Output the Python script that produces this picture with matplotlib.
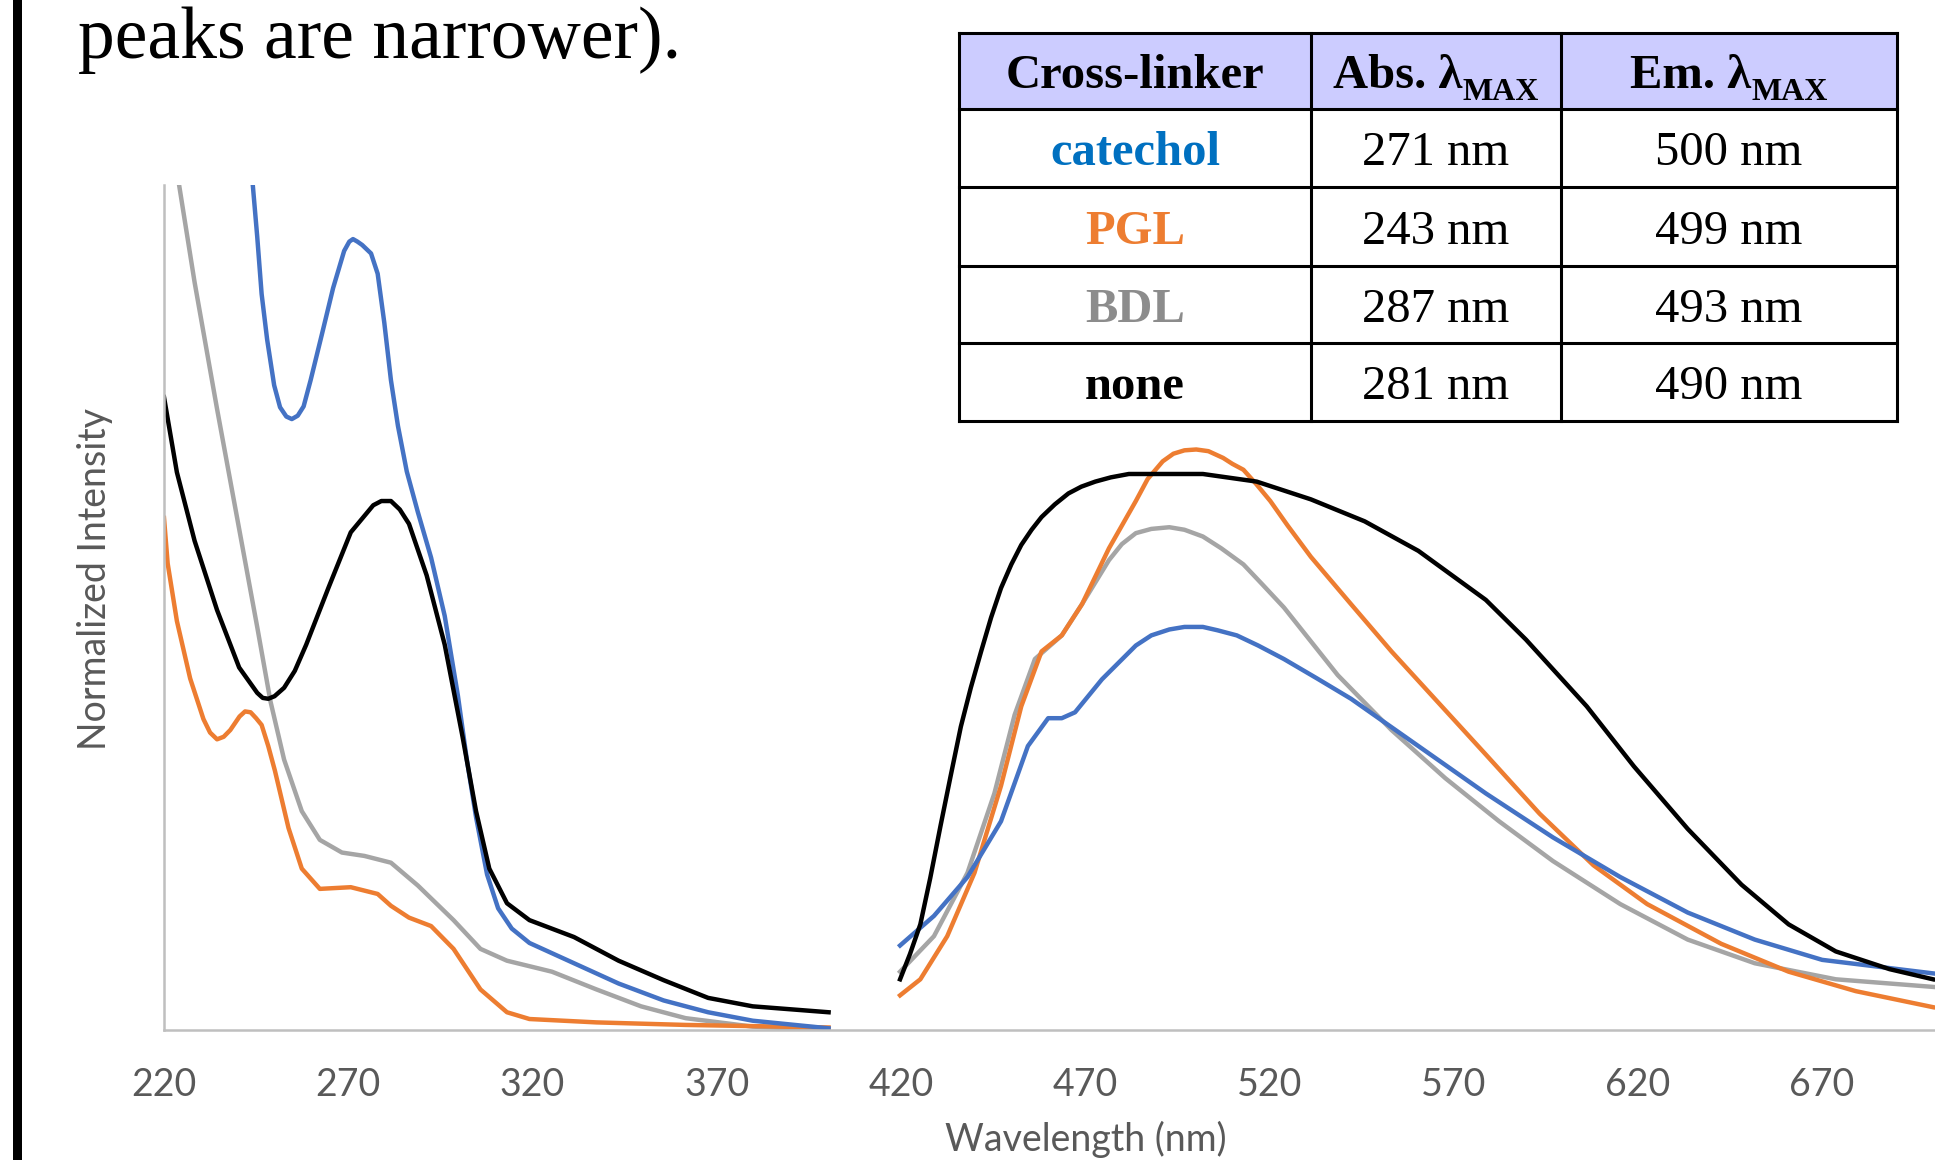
import matplotlib
matplotlib.use("Agg")
import matplotlib.pyplot as plt
from matplotlib.patches import Rectangle
from matplotlib.lines import Line2D

# absorption spectra (normalized, axis top = 1.0)
cat_abs_wl = [242, 244.1, 245.3, 246.5, 248.0, 249.9, 251.5, 253.2, 254.7, 256.3, 257.9, 259.8, 262.9,
              265.9, 268.9, 270.3, 271.3, 272.5, 273.8, 276.2, 278.0, 279.8, 281.6, 283.5, 285.9, 288.9,
              292.5, 296.2, 299.8, 302.2, 304.7, 307.7, 310.7, 314.4, 319.2, 331.3, 343.4, 355.6, 367.7,
              379.8, 400.4]
cat_abs = [1.11, 1.0, 0.939, 0.871, 0.817, 0.763, 0.737, 0.726, 0.723, 0.727, 0.738, 0.769, 0.824,
           0.878, 0.922, 0.933, 0.936, 0.933, 0.929, 0.919, 0.895, 0.837, 0.769, 0.715, 0.661, 0.613,
           0.559, 0.490, 0.395, 0.320, 0.252, 0.184, 0.144, 0.120, 0.103, 0.079, 0.055, 0.035, 0.021,
           0.011, 0.002]

pgl_abs_wl = [220, 221.0, 223.5, 227.1, 230.7, 232.5, 234.4, 236.2, 238.0, 240.5, 242.0, 243.5, 245.0,
              246.5, 248.3, 250.1, 253.8, 257.4, 262.3, 270.7, 278.0, 281.6, 286.5, 292.5, 298.6, 305.9,
              313.1, 319.2, 337.4, 361.6, 400.4]
pgl_abs = [0.606, 0.552, 0.484, 0.416, 0.368, 0.352, 0.344, 0.347, 0.355, 0.371, 0.377, 0.376, 0.369,
           0.361, 0.336, 0.307, 0.239, 0.191, 0.167, 0.169, 0.161, 0.147, 0.133, 0.123, 0.096, 0.048,
           0.021, 0.013, 0.009, 0.006, 0.003]

bdl_abs_wl = [220, 224.1, 228.3, 234.4, 240.4, 245.3, 248.9, 252.6, 257.4, 262.3, 268.3, 274.4, 281.6,
              288.9, 298.6, 305.9, 313.1, 325.3, 337.4, 349.5, 361.6, 379.8, 400.4]
bdl_abs = [1.11, 1.0, 0.885, 0.735, 0.593, 0.477, 0.389, 0.320, 0.259, 0.225, 0.210, 0.206, 0.198,
           0.171, 0.130, 0.096, 0.082, 0.069, 0.048, 0.028, 0.014, 0.004, 0.0]

none_abs_wl = [220, 223.5, 228.3, 234.4, 240.4, 245.3, 246.8, 248.3, 250.0, 252.6, 255.5, 258.6, 264.7,
               270.7, 276.8, 279.0, 281.6, 284.0, 286.5, 291.3, 296.2, 301.0, 304.7, 308.3, 313.1, 319.2,
               331.3, 343.4, 355.6, 367.7, 379.8, 400.4]
none_abs = [0.749, 0.660, 0.579, 0.497, 0.429, 0.399, 0.393, 0.392, 0.395, 0.405, 0.425, 0.456, 0.524,
            0.589, 0.621, 0.626, 0.626, 0.616, 0.599, 0.538, 0.456, 0.348, 0.259, 0.191, 0.150, 0.130,
            0.110, 0.082, 0.059, 0.038, 0.028, 0.021]

# emission spectra
cat_em_wl = [419.8, 429.0, 438.1, 447.2, 454.5, 460.0, 463.7, 467.3, 474.6, 483.8, 488.0, 492.9, 497.0,
             502.0, 506.0, 511.2, 517.0, 524.0, 533.0, 542.2, 560.5, 578.8, 597.0, 615.3, 633.6, 651.8,
             670.1, 700.2]
cat_em = [0.100, 0.135, 0.181, 0.247, 0.336, 0.369, 0.369, 0.376, 0.415, 0.455, 0.467, 0.474, 0.477,
          0.477, 0.473, 0.467, 0.455, 0.439, 0.416, 0.392, 0.336, 0.280, 0.228, 0.181, 0.139, 0.107,
          0.083, 0.067]

pgl_em_wl = [419.8, 425.3, 432.6, 440.0, 447.2, 452.7, 458.2, 463.7, 469.2, 476.5, 483.8, 487.0, 491.1,
             494.0, 497.0, 500.2, 503.5, 507.5, 510.0, 513.0, 516.5, 520.3, 525.0, 531.3, 542.2, 553.2,
             566.0, 578.8, 593.4, 608.0, 622.6, 642.7, 661.0, 679.2, 700.2]
pgl_em = [0.041, 0.060, 0.111, 0.186, 0.289, 0.383, 0.448, 0.467, 0.504, 0.570, 0.626, 0.652, 0.673,
          0.682, 0.686, 0.687, 0.685, 0.677, 0.670, 0.663, 0.646, 0.626, 0.597, 0.560, 0.504, 0.448,
          0.387, 0.326, 0.256, 0.195, 0.149, 0.102, 0.069, 0.046, 0.027]

bdl_em_wl = [419.8, 429.0, 438.1, 445.4, 450.9, 456.4, 463.7, 469.2, 476.5, 480.0, 483.8, 488.0, 492.9,
             497.0, 502.0, 507.0, 513.0, 518.0, 524.0, 538.6, 553.2, 567.8, 582.4, 597.0, 615.3, 633.6,
             651.8, 673.8, 700.2]
bdl_em = [0.069, 0.111, 0.186, 0.280, 0.373, 0.439, 0.467, 0.504, 0.556, 0.575, 0.588, 0.593, 0.595,
          0.592, 0.584, 0.570, 0.551, 0.528, 0.500, 0.420, 0.355, 0.298, 0.247, 0.200, 0.149, 0.107,
          0.079, 0.060, 0.051]

none_em_wl = [419.8, 422.5, 425.3, 428.0, 430.8, 433.5, 436.3, 439.0, 441.8, 444.5, 447.2, 450.0, 452.7,
              455.5, 458.2, 461.8, 465.5, 469.0, 472.8, 477.0, 481.9, 502.0, 516.6, 531.3, 545.9, 560.5,
              578.8, 589.7, 606.2, 619.0, 633.6, 648.2, 661.0, 673.8, 688.4, 700.2]
none_em = [0.060, 0.090, 0.125, 0.180, 0.242, 0.300, 0.359, 0.405, 0.448, 0.488, 0.523, 0.551, 0.574,
           0.592, 0.607, 0.622, 0.635, 0.643, 0.649, 0.654, 0.658, 0.658, 0.649, 0.628, 0.602, 0.567,
           0.509, 0.462, 0.383, 0.312, 0.238, 0.172, 0.125, 0.093, 0.072, 0.060]

xticks = list(range(220, 671, 50))

# table content
linkers = ["catechol", "PGL", "BDL", "none"]
linker_colors = ["#0070C0", "#ED7D31", "#8C8C8C", "#000000"]
abs_max = ["271 nm", "243 nm", "287 nm", "281 nm"]
em_max = ["500 nm", "499 nm", "493 nm", "490 nm"]

blue, orange, gray, black = "#4472C4", "#ED7D31", "#A5A5A5", "#000000"

W, H = 1935, 1160
fig = plt.figure(figsize=(W / 100, H / 100), dpi=100)
ax = fig.add_axes([164 / W, 130 / H, 1771 / W, 845 / H])

lw = 3.2
ax.plot(bdl_abs_wl, bdl_abs, color=gray, lw=lw)
ax.plot(pgl_abs_wl, pgl_abs, color=orange, lw=lw)
ax.plot(cat_abs_wl, cat_abs, color=blue, lw=lw)
ax.plot(none_abs_wl, none_abs, color=black, lw=lw)
ax.plot(bdl_em_wl, bdl_em, color=gray, lw=lw)
ax.plot(pgl_em_wl, pgl_em, color=orange, lw=lw)
ax.plot(cat_em_wl, cat_em, color=blue, lw=lw)
ax.plot(none_em_wl, none_em, color=black, lw=lw)

ax.set_xlim(220, 220 + 1771 / 3.684)
ax.set_ylim(0, 1.0)
for s in ["top", "right"]:
    ax.spines[s].set_visible(False)
for s in ["left", "bottom"]:
    ax.spines[s].set_color("#BFBFBF")
    ax.spines[s].set_linewidth(1.8)
ax.set_yticks([])
ax.set_xticks(xticks)
ax.set_xticklabels([str(t) for t in xticks], family="Lato", fontsize=27, color="#595959")
ax.tick_params(axis="x", length=0, pad=27)

fig.text(95 / W, 1 - 579 / H, "Normalized Intensity", rotation=90, ha="center", va="center",
         family="Lato", fontsize=27, color="#595959")
fig.text(1086 / W, 2 / H, "Wavelength (nm)", ha="center", va="bottom",
         family="Lato", fontsize=27, color="#595959")

# document text and side bar
fig.text(78 / W, 1 - 58 / H, "peaks are narrower).", ha="left", va="baseline",
         family="Liberation Serif", fontsize=53, color="black")
fig.add_artist(Rectangle((13 / W, 0), 9 / W, 1, transform=fig.transFigure, color="black", lw=0))

# table
xe = [959, 1311, 1561, 1897]
ye = [33, 109, 187, 266, 343, 421]
fx = lambda px: px / W
fy = lambda py: 1 - py / H
fig.add_artist(Rectangle((fx(xe[0]), fy(ye[1])), fx(xe[3]) - fx(xe[0]), fy(ye[0]) - fy(ye[1]),
                         transform=fig.transFigure, facecolor="#CCCCFF", lw=0))
fig.add_artist(Rectangle((fx(xe[0]), fy(ye[-1])), fx(xe[3]) - fx(xe[0]), fy(ye[1]) - fy(ye[-1]),
                         transform=fig.transFigure, facecolor="white", lw=0))
for y in ye:
    fig.add_artist(Line2D([fx(xe[0]), fx(xe[-1])], [fy(y), fy(y)], transform=fig.transFigure,
                          color="black", lw=2.2))
for x in xe:
    fig.add_artist(Line2D([fx(x), fx(x)], [fy(ye[0]), fy(ye[-1])], transform=fig.transFigure,
                          color="black", lw=2.2))

serif = "Liberation Serif"
cx = [(xe[i] + xe[i + 1]) / 2 for i in range(3)]
cy = [(ye[i] + ye[i + 1]) / 2 for i in range(5)]

fig.text(fx(cx[0]), fy(cy[0]), "Cross-linker", ha="center", va="center_baseline",
         family=serif, fontsize=35, weight="bold")
renderer = fig.canvas.get_renderer()
for i, head in enumerate(["Abs. λ", "Em. λ"]):
    t1 = fig.text(0, fy(88), head, ha="left", va="baseline", family=serif, fontsize=35, weight="bold")
    t2 = fig.text(0, fy(100), "MAX", ha="left", va="baseline", family=serif, fontsize=23, weight="bold")
    w1 = t1.get_window_extent(renderer).width
    w2 = t2.get_window_extent(renderer).width
    left = cx[i + 1] - (w1 + w2) / 2
    t1.set_x(fx(left))
    t2.set_x(fx(left + w1))

for r in range(4):
    fig.text(fx(cx[0]), fy(cy[r + 1]), linkers[r], ha="center", va="center_baseline",
             family=serif, fontsize=35, weight="bold", color=linker_colors[r])
    fig.text(fx(cx[1]), fy(cy[r + 1]), abs_max[r], ha="center", va="center_baseline",
             family=serif, fontsize=35)
    fig.text(fx(cx[2]), fy(cy[r + 1]), em_max[r], ha="center", va="center_baseline",
             family=serif, fontsize=35)

fig.savefig("out.png", dpi=100)
